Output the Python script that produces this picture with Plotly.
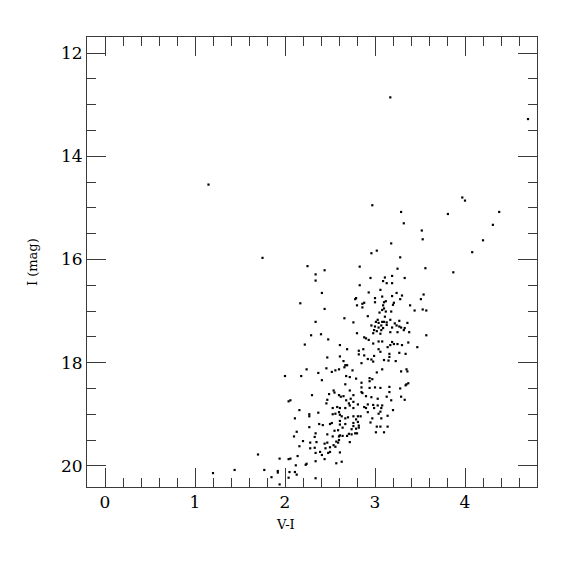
import plotly.graph_objects as go

# V-I colour and I magnitude of each star
vi = [
 3.17, 4.70, 1.15, 2.97, 3.29, 3.32, 3.81, 3.97, 4.00, 4.38, 4.31, 3.52, 3.53, 4.20, 3.18,
 2.96, 3.02, 3.28, 4.08, 3.87, 1.75,
 2.25, 2.44, 2.34, 2.34, 2.41, 2.17, 2.44, 2.66, 2.34,
 2.83, 3.25, 3.56, 3.19, 3.11, 2.95, 3.33, 3.09, 3.13, 3.19, 2.83, 3.06, 2.93, 3.24, 3.54,
 3.30, 3.08, 3.19, 2.79, 2.78, 3.00, 3.28, 3.51, 3.12, 3.10, 2.88, 2.86, 3.00, 3.21, 2.80,
 3.09, 3.20, 2.86, 3.39, 3.10, 3.08, 3.53, 3.57, 3.44, 3.12, 3.18, 3.05, 2.92, 3.11, 2.76,
 3.03, 3.17, 3.27, 3.01, 3.04, 3.08, 3.10, 3.13, 3.22, 3.36, 2.96, 3.00, 3.07, 3.13, 3.24,
 3.27, 3.29, 3.33, 3.04, 3.09, 3.19,
 2.29, 2.40, 2.48, 2.22, 2.47, 2.46, 2.24, 2.37, 2.18, 2.00, 2.41, 2.30, 2.49, 2.47, 2.06,
 2.04, 2.46,
 2.99, 3.02, 3.07, 2.98, 3.06, 3.17, 3.25, 3.32, 3.38, 3.57, 2.80, 2.88, 2.90, 2.93, 2.98,
 3.04, 3.08, 3.19, 3.21, 3.25, 3.30, 3.37, 3.17, 3.14, 3.47, 2.61, 2.69, 3.04, 3.06, 2.82,
 2.87, 3.16, 3.27, 3.34, 2.82, 2.88, 2.99, 2.61, 2.92, 2.96, 3.10, 3.16, 3.15, 3.23, 2.98,
 2.85, 2.65, 2.67, 2.69, 2.66, 2.60, 2.56, 2.52, 2.75, 3.08, 3.02, 3.29, 3.35, 3.36, 2.68,
 2.72, 2.79, 2.94, 2.97, 2.94, 2.85, 2.67, 3.37, 3.35, 3.34, 2.85, 2.94, 3.00, 3.06, 3.16,
 3.28, 2.54, 2.55, 2.72, 2.85, 2.86, 3.16, 2.60, 2.62, 2.65, 2.76, 2.90, 2.96, 3.03, 3.13,
 3.18, 3.29, 3.33, 2.68, 2.73, 2.76, 2.71, 2.72, 2.81, 2.92, 2.98, 3.03, 3.08, 2.58, 2.61,
 2.67, 2.76, 2.88, 2.90, 2.99, 3.07, 2.53, 3.20,
 1.70, 1.94, 2.04, 1.20, 1.44, 1.77, 1.92, 1.92, 2.05, 1.85, 2.04, 1.94,
 2.16, 2.27, 2.27, 2.37, 2.53, 2.56, 2.60, 2.61, 2.63, 2.67, 2.70, 2.76, 2.81, 2.84, 2.79,
 2.92, 2.97, 3.04, 3.06, 3.14, 3.07, 2.95, 3.02, 3.06, 3.14, 3.01, 3.10, 2.11, 2.52, 2.50,
 2.42, 2.38, 2.27, 2.61, 2.61, 2.64, 2.67, 2.76, 2.81, 2.76, 2.82, 2.74, 2.79, 2.82, 2.71,
 2.78, 2.80, 2.55, 2.59, 2.61, 2.64, 2.60, 2.53, 2.69, 2.74, 2.47, 2.34, 2.33, 2.13, 2.10,
 2.20, 2.28, 2.35, 2.44, 2.47, 2.57, 2.60, 2.59, 2.72, 2.54, 2.50, 2.45, 2.56, 2.16, 2.28,
 2.33, 2.39, 2.34, 2.41, 2.48, 2.50, 2.44, 2.61, 2.06, 2.12, 2.11, 2.13, 2.34, 2.23, 2.24,
 2.57, 2.63, 2.34, 2.14,
]
imag = [
 12.86, 13.28, 14.55, 14.95, 15.08, 15.30, 15.12, 14.80, 14.86, 15.08, 15.33, 15.44, 15.61, 15.63, 15.69,
 15.88, 15.83, 15.96, 15.86, 16.25, 15.97,
 16.13, 16.21, 16.29, 16.41, 16.65, 16.85, 16.96, 17.14, 17.21,
 16.14, 16.18, 16.17, 16.32, 16.35, 16.36, 16.36, 16.42, 16.46, 16.46, 16.50, 16.59, 16.64, 16.65, 16.68,
 16.70, 16.72, 16.71, 16.75, 16.77, 16.75, 16.77, 16.77, 16.81, 16.83, 16.84, 16.86, 16.83, 16.84, 16.89,
 16.89, 16.88, 16.93, 16.89, 16.95, 16.98, 16.97, 16.99, 16.99, 17.01, 17.01, 17.03, 17.10, 17.11, 17.22,
 17.17, 17.17, 17.19, 17.21, 17.23, 17.21, 17.21, 17.22, 17.24, 17.23, 17.28, 17.30, 17.28, 17.27, 17.28,
 17.30, 17.32, 17.33, 17.32, 17.33, 17.32,
 17.47, 17.45, 17.55, 17.65, 17.90, 18.11, 18.13, 18.20, 18.26, 18.26, 18.34, 18.63, 18.61, 18.72, 18.73,
 18.75, 18.79,
 17.37, 17.39, 17.37, 17.43, 17.44, 17.41, 17.41, 17.37, 17.41, 17.47, 17.43, 17.51, 17.53, 17.56, 17.63,
 17.59, 17.59, 17.60, 17.64, 17.64, 17.66, 17.61, 17.66, 17.70, 17.70, 17.66, 17.74, 17.74, 17.79, 17.77,
 17.74, 17.83, 17.81, 17.83, 17.84, 17.86, 17.87, 17.88, 17.93, 17.94, 17.95, 17.89, 17.96, 17.97, 17.98,
 18.01, 17.97, 18.05, 18.05, 18.09, 18.13, 18.15, 18.18, 18.15, 18.13, 18.19, 18.17, 18.13, 18.17, 18.26,
 18.28, 18.31, 18.30, 18.32, 18.36, 18.39, 18.42, 18.40, 18.42, 18.44, 18.48, 18.49, 18.48, 18.49, 18.47,
 18.50, 18.54, 18.58, 18.54, 18.57, 18.59, 18.57, 18.63, 18.66, 18.65, 18.63, 18.65, 18.67, 18.70, 18.66,
 18.73, 18.66, 18.72, 18.73, 18.70, 18.76, 18.79, 18.83, 18.81, 18.81, 18.82, 18.83, 18.83, 18.86, 18.88,
 18.88, 18.88, 18.86, 18.88, 18.88, 18.88, 18.88, 18.92,
 19.78, 19.86, 19.87, 20.14, 20.08, 20.08, 20.10, 20.13, 20.12, 20.22, 20.23, 20.36,
 18.92, 19.00, 19.04, 18.97, 19.00, 18.99, 18.96, 19.01, 19.04, 19.08, 19.06, 19.04, 19.04, 19.04, 19.10,
 18.96, 19.08, 18.99, 18.95, 19.03, 19.08, 19.16, 19.24, 19.24, 19.24, 19.35, 19.35, 19.08, 19.17, 19.19,
 19.21, 19.19, 19.25, 19.13, 19.20, 19.26, 19.19, 19.17, 19.15, 19.23, 19.22, 19.29, 19.28, 19.26, 19.38,
 19.37, 19.37, 19.32, 19.31, 19.41, 19.42, 19.43, 19.43, 19.42, 19.39, 19.39, 19.37, 19.44, 19.34, 19.43,
 19.52, 19.55, 19.54, 19.57, 19.55, 19.53, 19.50, 19.55, 19.54, 19.60, 19.64, 19.66, 19.63, 19.62, 19.66,
 19.65, 19.73, 19.75, 19.79, 19.75, 19.73, 19.87, 19.74, 19.86, 19.99, 20.12, 20.17, 19.91, 19.98, 19.96,
 19.95, 19.92, 20.24, 19.81,
]

x_tickvals = [0, 1, 2, 3, 4]
y_tickvals = [12, 14, 16, 18, 20]
x_title = "V-I"
y_title = "I (mag)"

font_family = "DejaVu Serif"
frame = "#3a3a3a"

fig = go.Figure(go.Scatter(
    x=vi, y=imag, mode="markers",
    marker=dict(symbol="square", size=2.2, color="black", line=dict(width=0)),
    hoverinfo="x+y", showlegend=False,
))

axis_common = dict(
    showgrid=False, zeroline=False, showline=True, linecolor=frame, linewidth=1,
    mirror="ticks", ticks="inside", ticklen=19, tickwidth=1, tickcolor=frame,
    tickfont=dict(family=font_family, size=17, color="black"),
)

fig.update_xaxes(
    range=[-0.2, 4.8], tickvals=x_tickvals, ticktext=[str(v) for v in x_tickvals],
    minor=dict(dtick=0.2, tick0=0, ticks="inside", ticklen=9, tickcolor=frame, tickwidth=1),
    **axis_common,
)
fig.update_yaxes(
    range=[20.41, 11.69], tickvals=y_tickvals, ticktext=[str(v) for v in y_tickvals],
    minor=dict(dtick=0.5, tick0=0, ticks="inside", ticklen=9, tickcolor=frame, tickwidth=1),
    **axis_common,
)

# the page body adds an 8 px offset, so margins are reduced by 8 on left/top
fig.update_layout(
    width=575, height=575,
    margin=dict(l=79, r=46, t=29, b=96),
    paper_bgcolor="white", plot_bgcolor="white",
    font=dict(family=font_family, color="black"),
    annotations=[
        dict(text=x_title, xref="paper", yref="paper", x=0.442, y=-0.063,
             xanchor="center", yanchor="top", showarrow=False,
             font=dict(family=font_family, size=13, color="black")),
        dict(text=y_title, xref="paper", yref="paper", x=-0.122, y=0.5,
             xanchor="center", yanchor="middle", textangle=-90, showarrow=False,
             font=dict(family=font_family, size=13, color="black")),
    ],
)

fig.write_html("out.html")
